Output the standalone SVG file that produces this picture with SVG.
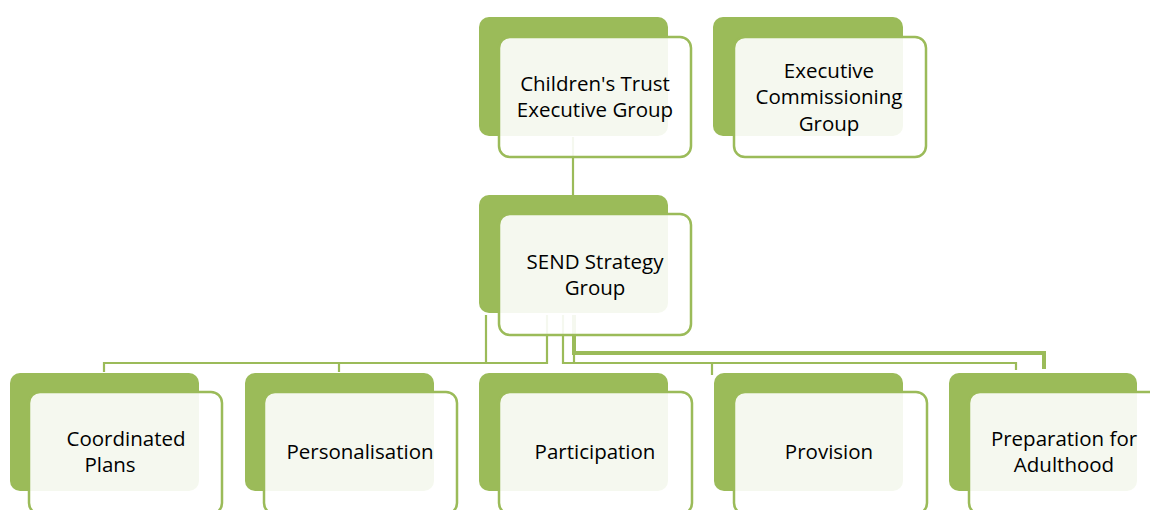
<svg xmlns="http://www.w3.org/2000/svg" width="1150" height="510" viewBox="0 0 1150 510">
<style>
.back{fill:#9BBB59;}
.front{fill:#FFFFFF;fill-opacity:0.9;stroke:#9BBB59;stroke-width:2.5;}
.lbl{font-family:"Open Sans","Liberation Sans",sans-serif;font-size:20.5px;fill:#000;text-anchor:middle;}
.thin{fill:none;stroke:#9BBB59;stroke-width:2.2;}
.thick{fill:none;stroke:#9BBB59;stroke-width:4;}
</style>
<rect width="1150" height="510" fill="#FFFFFF"/>
<g id="connectors">
<path class="thin" d="M573,137 V197"/>
<path class="thin" d="M486,315 V363 H104 V372"/>
<path class="thin" d="M547,315 V363 H339 V372"/>
<path class="thin" d="M563,315 V363 H1016 V370"/>
<path class="thin" d="M712,363 V375"/>
<path class="thin" d="M574,350 V363"/>
<path class="thick" d="M574,315 V353 H1044 V369"/>
</g>
<g id="node-cte">
<rect class="back" x="479" y="17" width="189" height="119" rx="10"/>
<rect class="front" x="499" y="37" width="192" height="120" rx="11"/>
<text class="lbl" x="595" y="91">Children's Trust</text>
<text class="lbl" x="595" y="117">Executive Group</text>
</g>
<g id="node-ecg">
<rect class="back" x="713" y="17" width="190" height="119" rx="10"/>
<rect class="front" x="734" y="37" width="192" height="120" rx="11"/>
<text class="lbl" x="829" y="78">Executive</text>
<text class="lbl" x="829" y="104">Commissioning</text>
<text class="lbl" x="829" y="131">Group</text>
</g>
<g id="node-send">
<rect class="back" x="479" y="195" width="189" height="118" rx="10"/>
<rect class="front" x="499" y="214" width="192" height="121" rx="11"/>
<text class="lbl" x="595" y="269">SEND Strategy</text>
<text class="lbl" x="595" y="295">Group</text>
</g>
<g id="node-coordinated">
<rect class="back" x="10" y="373" width="189" height="118" rx="10"/>
<rect class="front" x="29" y="392" width="193" height="122" rx="11"/>
<text class="lbl" x="126" y="446">Coordinated</text>
<text class="lbl" x="110" y="472">Plans</text>
</g>
<g id="node-personalisation">
<rect class="back" x="245" y="373" width="189" height="118" rx="10"/>
<rect class="front" x="264" y="392" width="193" height="122" rx="11"/>
<text class="lbl" x="360" y="459">Personalisation</text>
</g>
<g id="node-participation">
<rect class="back" x="479" y="373" width="189" height="118" rx="10"/>
<rect class="front" x="499" y="392" width="193" height="122" rx="11"/>
<text class="lbl" x="595" y="459">Participation</text>
</g>
<g id="node-provision">
<rect class="back" x="714" y="373" width="189" height="118" rx="10"/>
<rect class="front" x="734" y="392" width="193" height="122" rx="11"/>
<text class="lbl" x="829" y="459">Provision</text>
</g>
<g id="node-preparation">
<rect class="back" x="949" y="373" width="188" height="118" rx="10"/>
<rect class="front" x="969" y="392" width="193" height="122" rx="11"/>
<text class="lbl" x="1064" y="446">Preparation for</text>
<text class="lbl" x="1064" y="472">Adulthood</text>
</g>
</svg>
